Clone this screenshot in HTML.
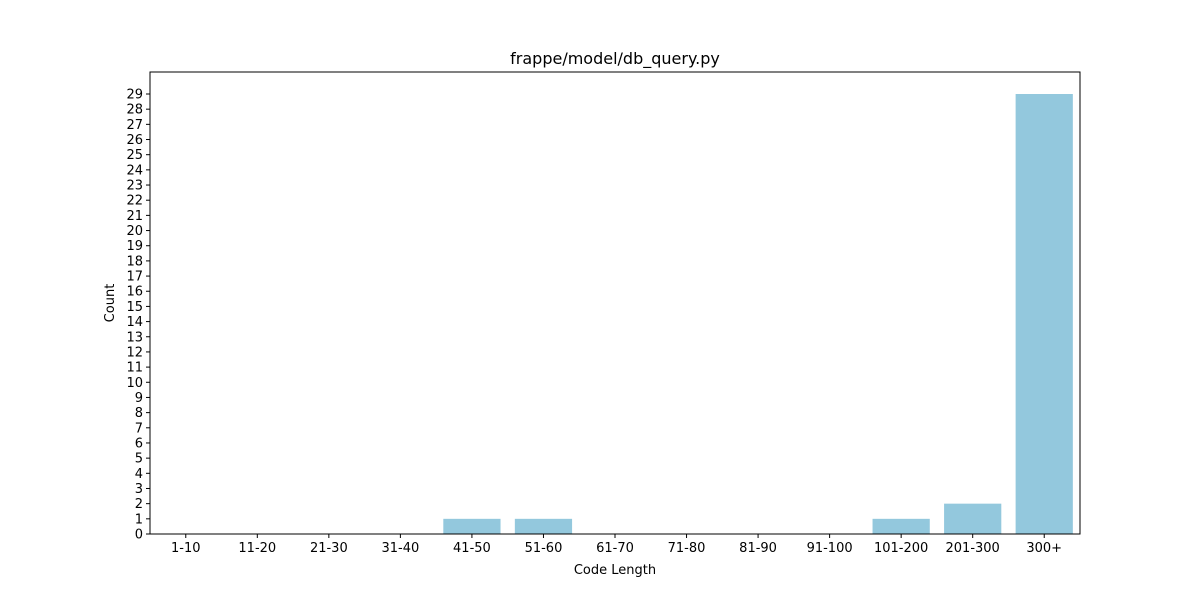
<!DOCTYPE html>
<html><head><meta charset="utf-8"><style>
body{margin:0;background:#fff;font-family:"Liberation Sans","DejaVu Sans",sans-serif;}
svg text{font-family:"DejaVu Sans","Liberation Sans",sans-serif;}
</style></head><body>
<svg id="chart" width="1200" height="600" xmlns="http://www.w3.org/2000/svg">
<rect width="1200" height="600" fill="#fff"/>
<text x="615" y="64" text-anchor="middle" font-size="16">frappe/model/db_query.py</text>
<g id="bars"></g>
<g id="xticks"></g>
<g id="yticks"></g>
<rect x="150" y="72" width="930" height="462" fill="none" stroke="#000" stroke-width="1"/>
<text x="615" y="574" text-anchor="middle" font-size="13">Code Length</text>
<text x="114" y="303" text-anchor="middle" font-size="13" transform="rotate(-90 114 303)">Count</text>
</svg>
<script>
const categories=["1-10","11-20","21-30","31-40","41-50","51-60","61-70","71-80","81-90","91-100","101-200","201-300","300+"];
const counts=[0,0,0,0,1,1,0,0,0,0,1,2,29];
const yTicks=[0,1,2,3,4,5,6,7,8,9,10,11,12,13,14,15,16,17,18,19,20,21,22,23,24,25,26,27,28,29];
const NS="http://www.w3.org/2000/svg";
const L=150,R=1080,T=72,B=534;
const yMax=Math.max(...counts)*1.05;
const y=v=>B-(v/yMax)*(B-T);
const step=(R-L)/categories.length;
const x=i=>L+(i+0.5)*step;
const bars=document.getElementById('bars'),xt=document.getElementById('xticks'),yt=document.getElementById('yticks');
function mk(t,a){const e=document.createElementNS(NS,t);for(const k in a)e.setAttribute(k,a[k]);return e;}
categories.forEach((c,i)=>{
  const bw=step*0.8;
  const r=mk('rect',{x:x(i)-bw/2,y:y(counts[i]),width:bw,height:B-y(counts[i]),fill:'#93c8dd'});
  
  
  bars.appendChild(r);
  const tk=mk('line',{x1:x(i),x2:x(i),y1:B,y2:B+4,stroke:'#000'});
  
  
  xt.appendChild(tk);
  const tl=mk('text',{x:x(i),y:B+18,'text-anchor':'middle','font-size':'13'});
  
  
  tl.textContent=c;xt.appendChild(tl);
});
yTicks.forEach(v=>{
  const tk=mk('line',{x1:L-4,x2:L,y1:y(v),y2:y(v),stroke:'#000'});
  
  
  yt.appendChild(tk);
  const tl=mk('text',{x:L-7,y:y(v)+4.5,'text-anchor':'end','font-size':'13'});
  
  
  tl.textContent=v;yt.appendChild(tl);
});
</script>
</body></html>
